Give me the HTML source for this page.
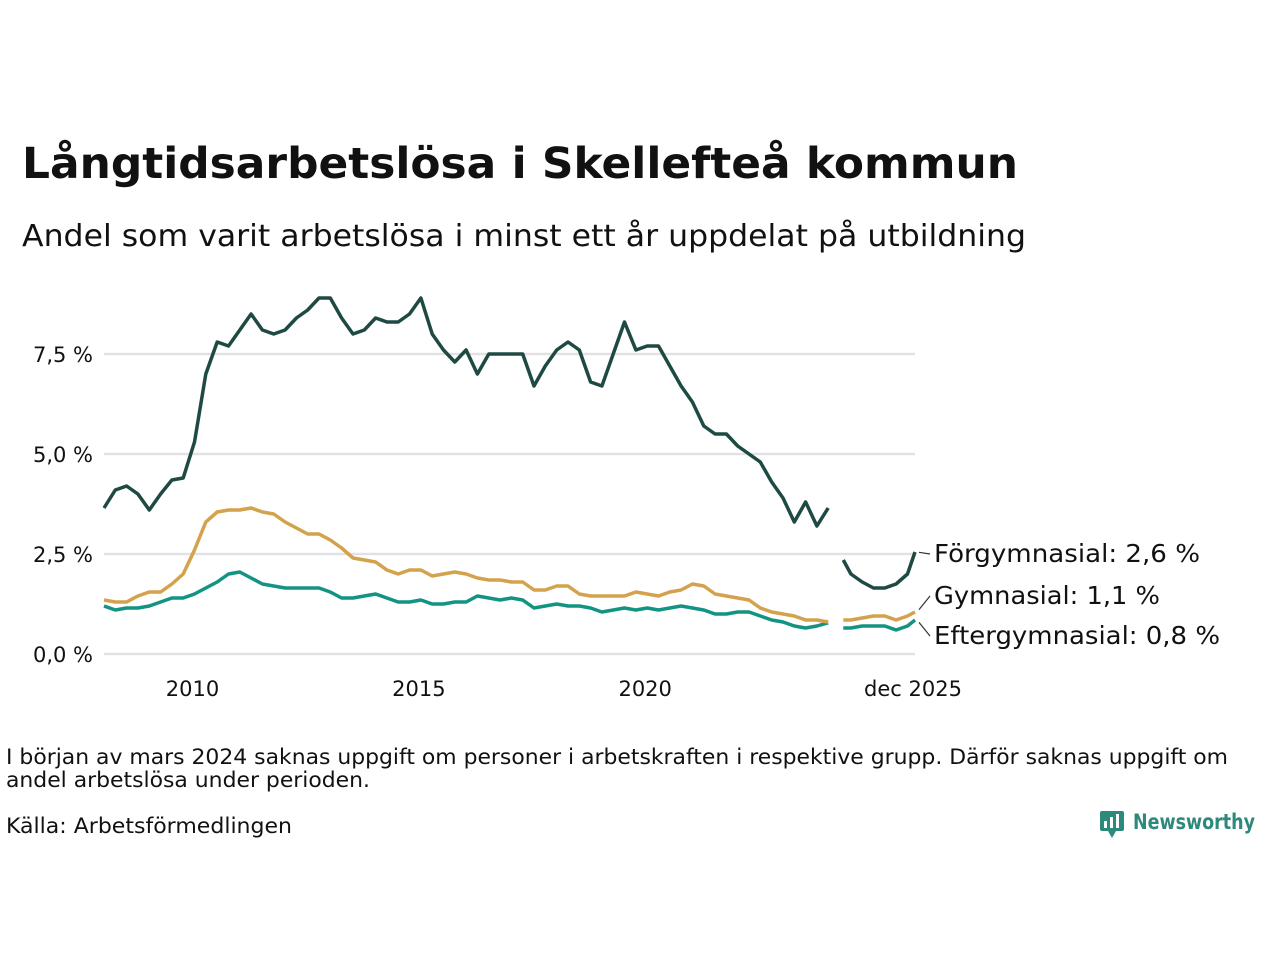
<!DOCTYPE html>
<html><head><meta charset="utf-8"><style>
body{margin:0;width:1280px;height:960px;background:#fff;font-family:"DejaVu Sans","Liberation Sans",sans-serif;overflow:hidden}
</style></head><body>
<svg width="1280" height="960" style="position:absolute;left:0;top:0">
<text x="22" y="178" font-size="43" font-weight="bold" fill="#111" textLength="996" lengthAdjust="spacingAndGlyphs">Långtidsarbetslösa i Skellefteå kommun</text>
<text x="22" y="246" font-size="30" fill="#111" textLength="1004" lengthAdjust="spacingAndGlyphs">Andel som varit arbetslösa i minst ett år uppdelat på utbildning</text>
<g id="grid"></g><g id="lines"></g><g id="labels"></g>
<text x="6" y="764" font-size="21" fill="#111" textLength="1222" lengthAdjust="spacingAndGlyphs">I början av mars 2024 saknas uppgift om personer i arbetskraften i respektive grupp. Därför saknas uppgift om</text>
<text x="6" y="787" font-size="21" fill="#111" textLength="364" lengthAdjust="spacingAndGlyphs">andel arbetslösa under perioden.</text>
<text x="6" y="833" font-size="21" fill="#111" textLength="286" lengthAdjust="spacingAndGlyphs">Källa: Arbetsförmedlingen</text>
<g>
<rect x="1100" y="811" width="24" height="20" rx="2" fill="#2d8a7b"/><path d="M1108 831 l4 7 l4 -7z" fill="#2d8a7b"/>
<rect x="1104" y="821" width="3" height="7" fill="#fff"/><rect x="1110" y="817" width="3" height="11" fill="#fff"/><rect x="1116" y="814" width="3" height="14" fill="#fff"/>
<text x="1133" y="829" font-size="21" font-weight="bold" fill="#2d8a7b" textLength="122" lengthAdjust="spacingAndGlyphs">Newsworthy</text></g>
</svg>
<script>
const yTicks=[0,2.5,5,7.5];
const yTickLabels=["0,0 %","2,5 %","5,0 %","7,5 %"];
const xTicks=[24,84,144,215];
const xTickLabels=["2010","2015","2020","dec 2025"];
const monthsQ=[];for(let m=0;m<=192;m+=3)monthsQ.push(m);
const monthsTail=[194,196,198,201,204,207,210,213,215];
const forgymQ=[3.65,4.1,4.2,4.0, 3.6,4.0,4.35,4.4, 5.3,7.0,7.8,7.7, 8.1,8.5,8.1,8.0, 8.1,8.4,8.6,8.9, 8.9,8.4,8.0,8.1, 8.4,8.3,8.3,8.5, 8.9,8.0,7.6,7.3, 7.6,7.0,7.5,7.5, 7.5,7.5,6.7,7.2, 7.6,7.8,7.6,6.8, 6.7,7.5,8.3,7.6, 7.7,7.7,7.2,6.7, 6.3,5.7,5.5,5.5, 5.2,5.0,4.8,4.3, 3.9,3.3,3.8,3.2, 3.65];
const forgymTail=[null,2.35,2.0,1.8,1.65,1.65,1.75,2.0,2.55];
const gymQ=[1.35,1.3,1.3,1.45, 1.55,1.55,1.75,2.0, 2.6,3.3,3.55,3.6, 3.6,3.65,3.55,3.5, 3.3,3.15,3.0,3.0, 2.85,2.65,2.4,2.35, 2.3,2.1,2.0,2.1, 2.1,1.95,2.0,2.05, 2.0,1.9,1.85,1.85, 1.8,1.8,1.6,1.6, 1.7,1.7,1.5,1.45, 1.45,1.45,1.45,1.55, 1.5,1.45,1.55,1.6, 1.75,1.7,1.5,1.45, 1.4,1.35,1.15,1.05, 1.0,0.95,0.85,0.85, 0.8];
const gymTail=[null,0.85,0.85,0.9,0.95,0.95,0.85,0.95,1.05];
const eftQ=[1.2,1.1,1.15,1.15, 1.2,1.3,1.4,1.4, 1.5,1.65,1.8,2.0, 2.05,1.9,1.75,1.7, 1.65,1.65,1.65,1.65, 1.55,1.4,1.4,1.45, 1.5,1.4,1.3,1.3, 1.35,1.25,1.25,1.3, 1.3,1.45,1.4,1.35, 1.4,1.35,1.15,1.2, 1.25,1.2,1.2,1.15, 1.05,1.1,1.15,1.1, 1.15,1.1,1.15,1.2, 1.15,1.1,1.0,1.0, 1.05,1.05,0.95,0.85, 0.8,0.7,0.65,0.7, 0.78];
const eftTail=[null,0.65,0.65,0.7,0.7,0.7,0.6,0.7,0.85];
const NS="http://www.w3.org/2000/svg";
const X=m=>104+m*(811/215), Y=v=>654-v*40;
function mk(t,a,p){const e=document.createElementNS(NS,t);for(const k in a)e.setAttribute(k,a[k]);document.getElementById(p).appendChild(e);return e;}
yTicks.forEach((v,i)=>{
 const l=mk('line',{x1:104,x2:915,y1:Y(v),y2:Y(v),stroke:'#e2e2e6','stroke-width':2.5},'grid');
 
 
 const t=mk('text',{x:93,y:Y(v)+8,'text-anchor':'end','font-size':21,fill:'#111'},'grid');t.textContent=yTickLabels[i];
 
 
});
xTicks.forEach((m,i)=>{
 const t=mk('text',{x:X(m)-2,y:696,'text-anchor':'middle','font-size':21,fill:'#111'},'grid');t.textContent=xTickLabels[i];
 
 
});
const months=monthsQ.concat(monthsTail);
function draw(vals,color,name){
 let d='',pen=false;
 vals.forEach((v,i)=>{if(v==null){pen=false;return;}d+=(pen?'L':'M')+X(months[i]).toFixed(1)+' '+Y(v).toFixed(1);pen=true;});
 const p=mk('path',{d:d,fill:'none',stroke:color,'stroke-width':3.5,'stroke-linejoin':'round'},'lines');
 
 
}
draw(eftQ.concat(eftTail),'#139482','line-eftergymnasial');
draw(gymQ.concat(gymTail),'#d4a24c','line-gymnasial');
draw(forgymQ.concat(forgymTail),'#1f4a43','line-forgymnasial');
const labs=[["Förgymnasial: 2,6 %",forgymTail[8],562,266],["Gymnasial: 1,1 %",gymTail[8],604,226],["Eftergymnasial: 0,8 %",eftTail[8],644,286]];
labs.forEach(([s,v,ty,w])=>{
 const l=mk('line',{x1:919,y1:Y(v)+(ty-8-Y(v))*0.15,x2:930,y2:ty-8,stroke:'#333','stroke-width':1.2},'labels');
 
 
 const t=mk('text',{x:934,y:ty,'font-size':25,fill:'#111',textLength:w,lengthAdjust:'spacingAndGlyphs'},'labels');t.textContent=s;
 
 
});
</script>
</body></html>
